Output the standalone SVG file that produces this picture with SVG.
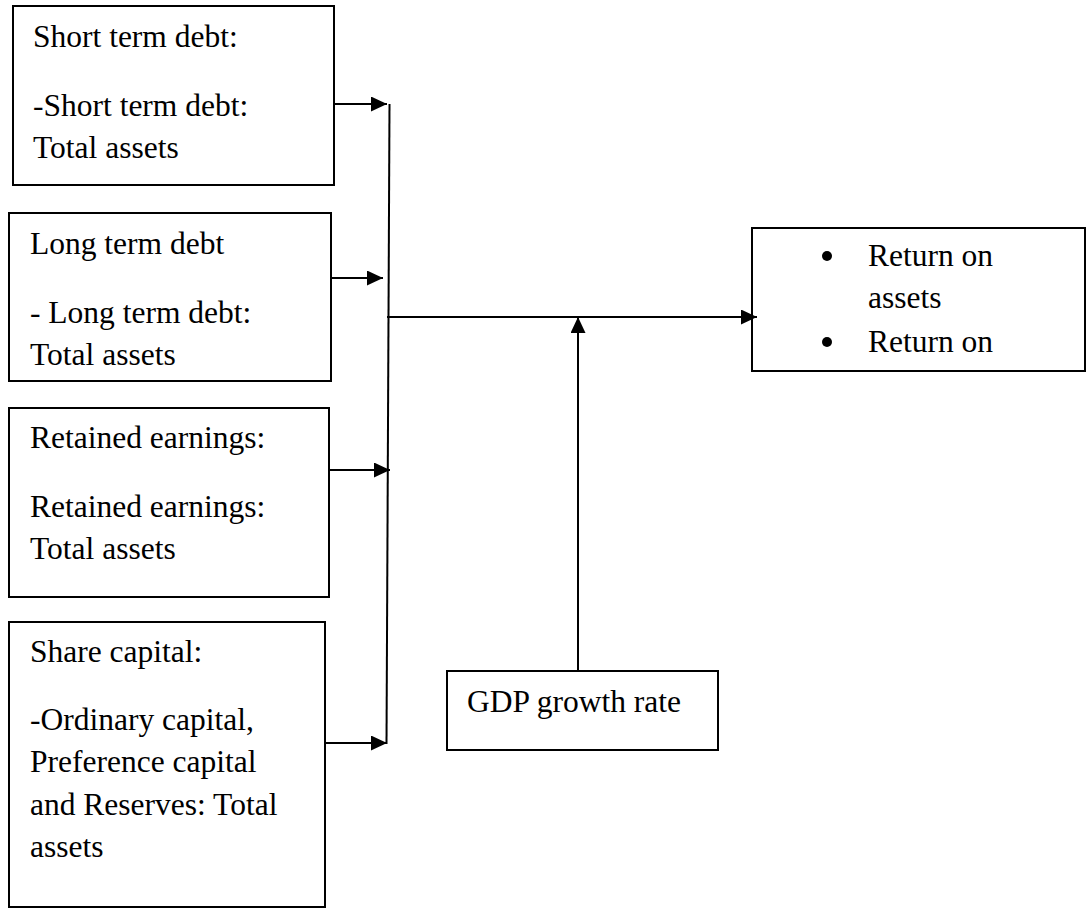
<svg xmlns="http://www.w3.org/2000/svg" width="1087" height="909" viewBox="0 0 1087 909">
<style>
.box{fill:#fff;stroke:#000;stroke-width:2}
.t{font-family:"Liberation Serif","Times New Roman",serif;font-size:31.5px;fill:#000}
.c{stroke:#000;stroke-width:2;fill:none}
</style>
<defs>
<marker id="ah" markerUnits="userSpaceOnUse" markerWidth="18" markerHeight="16" refX="16" refY="7.5" orient="auto">
<path d="M0,0 L16,7.5 L0,15 Z" fill="#000"/>
</marker>
</defs>
<rect width="1087" height="909" fill="#fff"/>
<g id="n1">
<rect class="box" x="13" y="6" width="321" height="179"/>
<text class="t" x="33" y="47">Short term debt:</text>
<text class="t" x="33" y="116">-Short term debt:</text>
<text class="t" x="33" y="158">Total assets</text>
</g>
<g id="n2">
<rect class="box" x="9" y="213" width="322" height="168"/>
<text class="t" x="30" y="254">Long term debt</text>
<text class="t" x="30" y="323">- Long term debt:</text>
<text class="t" x="30" y="365">Total assets</text>
</g>
<g id="n3">
<rect class="box" x="9" y="408" width="320" height="189"/>
<text class="t" x="30" y="448">Retained earnings:</text>
<text class="t" x="30" y="517">Retained earnings:</text>
<text class="t" x="30" y="559">Total assets</text>
</g>
<g id="n4">
<rect class="box" x="9" y="622" width="316" height="285"/>
<text class="t" x="30" y="662">Share capital:</text>
<text class="t" x="30" y="730">-Ordinary capital,</text>
<text class="t" x="30" y="772">Preference capital</text>
<text class="t" x="30" y="815">and Reserves: Total</text>
<text class="t" x="30" y="857">assets</text>
</g>
<g id="n5">
<rect class="box" x="752" y="228" width="333" height="143"/>
<circle cx="827" cy="256" r="5"/>
<text class="t" x="868" y="266">Return on</text>
<text class="t" x="868" y="308">assets</text>
<circle cx="827" cy="342" r="5"/>
<text class="t" x="868" y="352">Return on</text>
</g>
<g id="n6">
<rect class="box" x="447" y="671" width="271" height="79"/>
<text class="t" x="467" y="712">GDP growth rate</text>
</g>
<g id="connectors">
<line class="c" x1="389.5" y1="104" x2="386.5" y2="744"/>
<line class="c" x1="334" y1="104" x2="387" y2="104" marker-end="url(#ah)"/>
<line class="c" x1="331" y1="278" x2="383" y2="278" marker-end="url(#ah)"/>
<line class="c" x1="329" y1="470" x2="390" y2="470" marker-end="url(#ah)"/>
<line class="c" x1="325" y1="743" x2="387" y2="743" marker-end="url(#ah)"/>
<line class="c" x1="387" y1="317" x2="757" y2="317" marker-end="url(#ah)"/>
<line class="c" x1="578" y1="671" x2="578" y2="317" marker-end="url(#ah)"/>
</g>
</svg>
